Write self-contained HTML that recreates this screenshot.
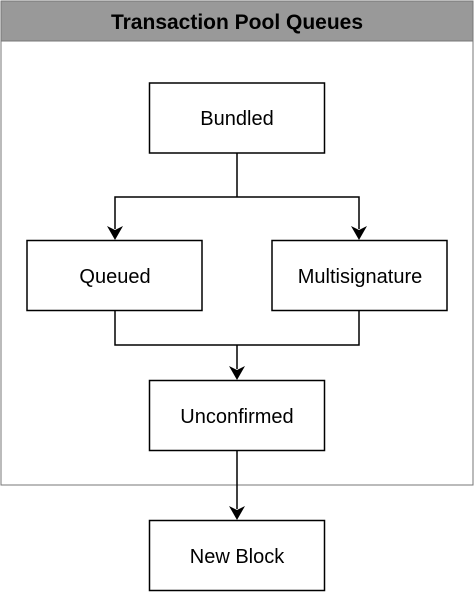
<!DOCTYPE html>
<html><head><style>
html,body{margin:0;padding:0;background:#fff;}
svg{display:block;}
text{font-family:"Liberation Sans",Helvetica,Arial,sans-serif;}
</style></head><body>
<svg width="475" height="592" viewBox="0 0 475 592" xmlns="http://www.w3.org/2000/svg">
<rect x="1" y="1" width="472" height="484" fill="#fff" stroke="#777" stroke-width="1"/>
<rect x="1" y="1" width="472" height="40" fill="#999" stroke="#777" stroke-width="1"/>
<text x="237" y="29" text-anchor="middle" font-size="21" font-weight="bold" fill="#000">Transaction Pool Queues</text>

<g fill="none" stroke="#000" stroke-width="1.5">
<rect x="149.5" y="83" width="175" height="70"/>
<rect x="27" y="240.5" width="175" height="70"/>
<rect x="272" y="240.5" width="175" height="70"/>
<rect x="149.5" y="380.5" width="175" height="70"/>
<rect x="149.5" y="520.5" width="175" height="70"/>
<path d="M237 153 V197 M115 229 V197 H359 V229"/>
<path d="M115 310 V345 H359 V310 M237 345 V369"/>
<path d="M237 450 V509"/>
</g>
<g fill="#000">
<path d="M115 240 L107 226 L115 230 L123 226 Z"/>
<path d="M359 240 L351 226 L359 230 L367 226 Z"/>
<path d="M237 380 L229 366 L237 370 L245 366 Z"/>
<path d="M237 520 L229 506 L237 510 L245 506 Z"/>
</g>
<g font-size="20" fill="#000" text-anchor="middle">
<text x="237" y="125">Bundled</text>
<text x="115" y="283">Queued</text>
<text x="360" y="283">Multisignature</text>
<text x="237" y="423">Unconfirmed</text>
<text x="237" y="563">New Block</text>
</g>
</svg>
</body></html>
